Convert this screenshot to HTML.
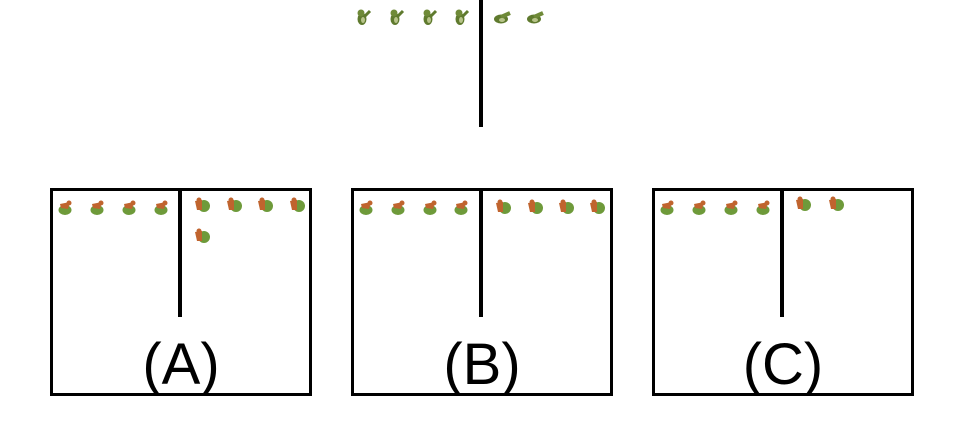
<!DOCTYPE html>
<html><head><meta charset="utf-8"><style>
body{margin:0;width:963px;height:446px;background:#fff;position:relative;overflow:hidden;font-family:"Liberation Sans",sans-serif}
.box{position:absolute;border:3px solid #000;box-sizing:border-box;background:#fff}
.vline{position:absolute;background:#000;width:4px}
.lbl{position:absolute;font-size:58px;line-height:58px;text-align:center;width:200px;color:#000}
.ic{position:absolute;width:18px;height:18px}
</style></head><body>
<div class="vline" style="left:479px;top:0;height:127px"></div>
<div class="box" style="left:50px;top:188px;width:262px;height:208px"></div>
<div class="box" style="left:351px;top:188px;width:262px;height:208px"></div>
<div class="box" style="left:652px;top:188px;width:262px;height:208px"></div>
<div class="vline" style="left:178px;top:188px;height:129px"></div>
<div class="vline" style="left:479px;top:188px;height:129px"></div>
<div class="vline" style="left:780px;top:188px;height:129px"></div>
<div class="lbl" style="left:81px;top:336px">(A)</div>
<div class="lbl" style="left:382px;top:336px">(B)</div>
<div class="lbl" style="left:683px;top:336px">(C)</div>
<script>
const dinoUp=[363,396,429,461];
const dinoDown=[502,535];
const typeA=[[66,207],[98,207],[130,207],[162,207],[367,207],[399,207],[431,207],[462,207],[668,207],[700,207],[732,207],[764,207]];
const typeB=[[202,205],[234,205],[265,205],[297,205],[202,236],[503,207],[535,207],[566,207],[597,207],[803,204],[836,204]];
function add(svg,x,y,name){
  const d=document.createElement('div');d.className='ic';
  d.style.left=(x-9)+'px';d.style.top=(y-9)+'px';d.innerHTML=svg;
  
  
  document.body.appendChild(d);
}
const sUp='<svg width="18" height="18"><ellipse cx="8" cy="11" rx="4.5" ry="6" fill="#5f7a2e"/><circle cx="7" cy="5" r="3.5" fill="#6f8a38"/><path d="M11 8 L16 3" stroke="#5f7a2e" stroke-width="3"/><ellipse cx="9" cy="12" rx="2" ry="3" fill="#b8c48a"/></svg>';
const sDn='<svg width="18" height="18"><ellipse cx="8" cy="11" rx="7" ry="4.5" fill="#5f7a2e"/><path d="M8 9 L17 5" stroke="#6f8a38" stroke-width="4"/><ellipse cx="9" cy="12" rx="3" ry="2" fill="#b8c48a"/></svg>';
const sA='<svg width="18" height="18"><ellipse cx="8" cy="12" rx="6.5" ry="5" fill="#6e9a3a"/><path d="M3 6 L13 4 L11 11 L4 10Z" fill="#c0642e"/><circle cx="12" cy="5" r="2.5" fill="#c0642e"/></svg>';
const sB='<svg width="18" height="18"><circle cx="11" cy="10" r="6" fill="#6e9a3a"/><path d="M2 5 L9 4 L9 14 L4 14Z" fill="#c0642e"/><circle cx="6" cy="4" r="2.5" fill="#c0642e"/></svg>';
dinoUp.forEach(x=>add(sUp,x,17,'dino-standing'));
dinoDown.forEach(x=>add(sDn,x,17,'dino-crouching'));
typeA.forEach(p=>add(sA,p[0],p[1],'creature-a'));
typeB.forEach(p=>add(sB,p[0],p[1],'creature-b'));
</script>
</body></html>
